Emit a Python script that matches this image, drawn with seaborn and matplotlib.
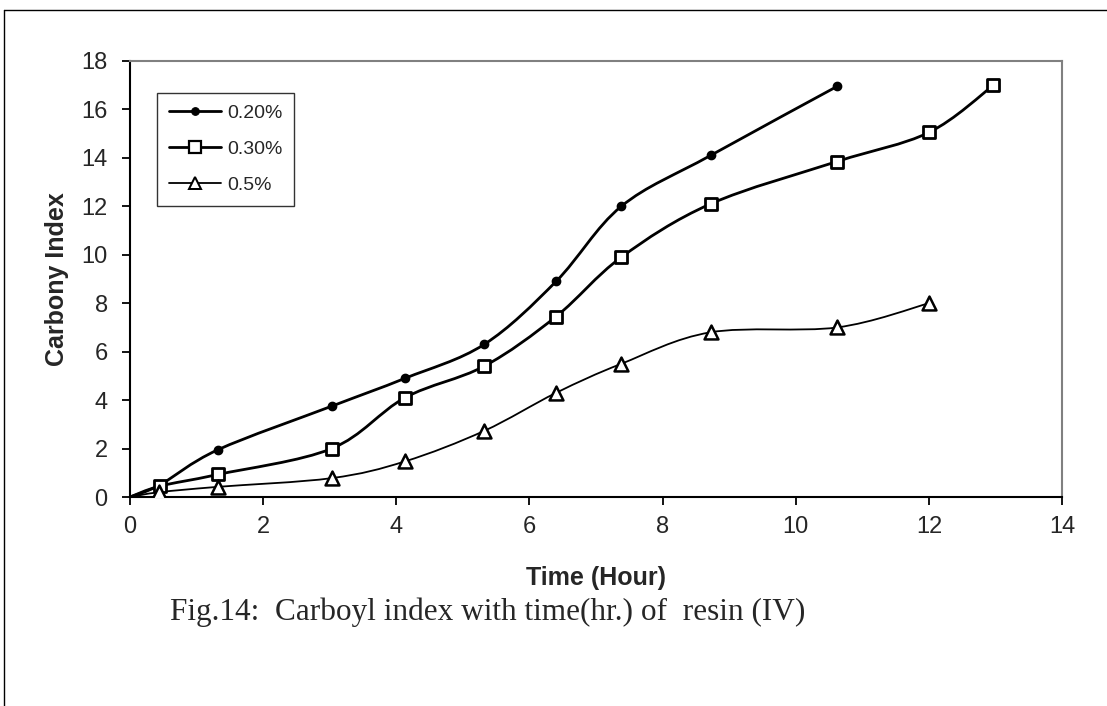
import numpy as np
import pandas as pd
import matplotlib
matplotlib.use("Agg")
import matplotlib.pyplot as plt
from matplotlib.path import Path
from matplotlib.patches import PathPatch
from matplotlib.lines import Line2D
import seaborn as sns

# Datos
time_020 = [0, 0.45, 1.32, 3.03, 4.13, 5.32, 6.4, 7.38, 8.72, 10.62]
ci_020 = [0, 0.5, 1.95, 3.75, 4.9, 6.3, 8.9, 12.0, 14.1, 16.95]

time_030 = [0, 0.45, 1.32, 3.03, 4.13, 5.32, 6.4, 7.38, 8.72, 10.62, 12.0, 12.97]
ci_030 = [0, 0.45, 0.93, 2.0, 4.1, 5.4, 7.45, 9.9, 12.1, 13.85, 15.05, 17.0]

time_05 = [0, 0.44, 1.32, 3.03, 4.13, 5.32, 6.4, 7.38, 8.72, 10.62, 12.0]
ci_05 = [0, 0.2, 0.42, 0.78, 1.47, 2.73, 4.3, 5.5, 6.8, 7.0, 8.0]

labels = ["0.20%", "0.30%", "0.5%"]

sns.set_style("ticks")
plt.rcParams['font.family'] = ['Liberation Sans', 'DejaVu Sans']


def smooth_path(x, y, t=1 / 6):
    """Curva suave tipo Excel (Catmull-Rom a Bezier cúbica)"""
    pts = np.column_stack([np.asarray(x, float), np.asarray(y, float)])
    verts = [pts[0]]
    codes = [Path.MOVETO]
    n = len(pts)
    for i in range(n - 1):
        p0 = pts[i - 1] if i > 0 else pts[i]
        p1 = pts[i]
        p2 = pts[i + 1]
        p3 = pts[i + 2] if i + 2 < n else pts[i + 1]
        verts += [p1 + (p2 - p0) * t, p2 - (p3 - p1) * t, p2]
        codes += [Path.CURVE4] * 3
    return Path(verts, codes)


fig = plt.figure(figsize=(11.07, 7.06), dpi=100)
ax = fig.add_axes([0.1174, 0.296, 0.8420, 0.6176])

# (x, y, marcador, relleno, tamaño, grosor línea, grosor borde, tamaño leyenda)
series = [
    (time_020, ci_020, "o", "black", 6, 2.0, 1.0, 5.5),
    (time_030, ci_030, "s", "white", 9, 2.0, 2.0, 8),
    (time_05, ci_05, "^", "white", 10, 1.3, 1.8, 8.5),
]

handles = []
for (tx, cy, mk, fc, ms, lw, mew, lms), lab in zip(series, labels):
    ax.add_patch(PathPatch(smooth_path(tx, cy), fill=False, edgecolor="black",
                           linewidth=lw, zorder=2))
    df = pd.DataFrame({"t": tx[1:], "c": cy[1:]})
    sns.scatterplot(data=df, x="t", y="c", ax=ax, marker=mk, s=ms ** 2,
                    color=fc, edgecolor="black", linewidth=mew, zorder=3,
                    legend=False)
    handles.append(Line2D([], [], color="black", lw=lw, marker=mk,
                          markersize=lms, markerfacecolor=fc,
                          markeredgecolor="black", markeredgewidth=mew * 0.8))

ax.set_xlim(0, 14)
ax.set_ylim(0, 18)
ax.set_xticks(range(0, 15, 2))
ax.set_yticks(range(0, 19, 2))
ax.tick_params(axis="both", labelsize=17, length=6, width=1.3, direction="out",
               color="black")
ax.tick_params(axis="x", pad=8)
ax.tick_params(axis="y", pad=10)
for side in ["left", "bottom"]:
    ax.spines[side].set_color("black")
    ax.spines[side].set_linewidth(1.5)
for side in ["top", "right"]:
    ax.spines[side].set_visible(True)
    ax.spines[side].set_color("#808080")
    ax.spines[side].set_linewidth(1.5)

ax.set_xlabel("Time (Hour)", fontsize=18, fontweight="bold", labelpad=20)
ax.set_ylabel("Carbony Index", fontsize=18, fontweight="bold", labelpad=9)

leg = ax.legend(handles, labels, loc="upper left", bbox_to_anchor=(0.029, 0.927),
                fontsize=14, frameon=True, fancybox=False, handlelength=2.7,
                borderpad=0.6, labelspacing=0.95, handletextpad=0.3,
                borderaxespad=0)
leg.get_frame().set_edgecolor("black")
leg.get_frame().set_linewidth(1.0)

fig.text(0.4404, 0.133, "Fig.14:  Carboyl index with time(hr.) of  resin (IV)",
         ha="center", va="center", fontsize=22.5,
         family=["Liberation Serif", "DejaVu Serif"])

# marco exterior (solo arriba e izquierda)
fig.add_artist(Line2D([0.004, 1.0], [0.986, 0.986], color="black", lw=1.0,
                      transform=fig.transFigure))
fig.add_artist(Line2D([0.004, 0.004], [0.0, 0.986], color="black", lw=1.0,
                      transform=fig.transFigure))

fig.savefig("out.png", dpi=100)
